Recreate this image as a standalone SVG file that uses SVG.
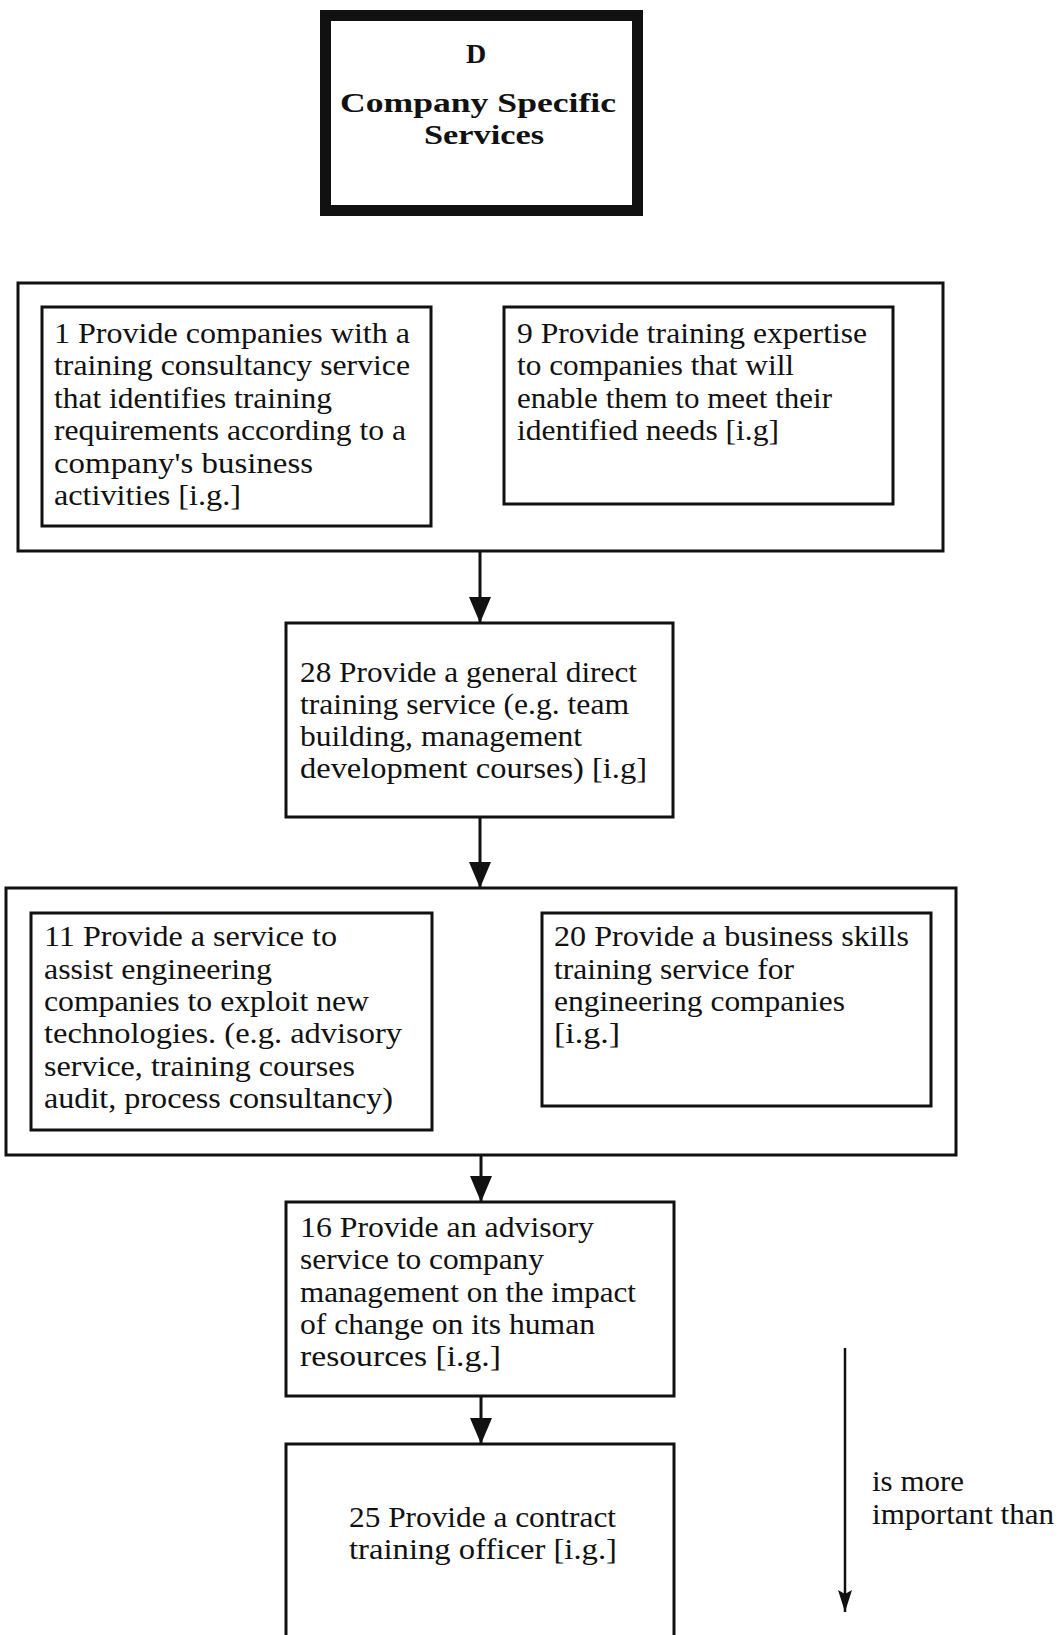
<svg xmlns="http://www.w3.org/2000/svg" width="1061" height="1635" viewBox="0 0 1061 1635">
  <style>
    .box { fill: #fff; stroke: #111; stroke-width: 3; }
    .group { fill: none; stroke: #111; stroke-width: 3; }
    .head { fill: none; stroke: #111; stroke-width: 11; }
    .t { font-family: "Liberation Serif", "Times New Roman", serif; font-size: 29px; fill: #111; }
    .h { font-family: "Liberation Serif", "Times New Roman", serif; font-size: 28px; font-weight: bold; fill: #111; }
    .link { stroke: #111; stroke-width: 3; fill: none; }
    .key { stroke: #111; stroke-width: 2.5; fill: none; }
  </style>
  <defs>
    <marker id="arrow" markerUnits="userSpaceOnUse" viewBox="0 0 26 22" markerWidth="26" markerHeight="22" refX="26" refY="11" orient="auto">
      <path d="M0,0 L26,11 L0,22 Z" fill="#111"/>
    </marker>
    <marker id="arrowSmall" markerUnits="userSpaceOnUse" viewBox="0 0 22 14" markerWidth="22" markerHeight="14" refX="22" refY="7" orient="auto">
      <path d="M0,0 L4,7 L0,14 L22,7 Z" fill="#111"/>
    </marker>
  </defs>

  <rect width="1061" height="1635" fill="#fff"/>

  <!-- heading -->
  <g id="heading">
    <rect class="head" x="325.5" y="15.5" width="312" height="195"/>
    <text class="h" x="476" y="63" text-anchor="middle" font-size="27">D</text>
    <text class="h" x="340" y="112" textLength="276" lengthAdjust="spacingAndGlyphs">Company  Specific</text>
    <text class="h" x="424" y="144" textLength="120" lengthAdjust="spacingAndGlyphs">Services</text>
  </g>

  <!-- first tier: services 1 and 9 -->
  <g id="tier1">
    <rect class="group" x="18" y="283" width="925" height="268"/>
  </g>
  <g id="node1">
    <rect class="box" x="42" y="307" width="389" height="219"/>
    <text class="t" x="54" y="343" textLength="356" lengthAdjust="spacingAndGlyphs">1 Provide companies with a</text>
    <text class="t" x="54" y="375" textLength="356" lengthAdjust="spacingAndGlyphs">training consultancy service</text>
    <text class="t" x="54" y="408" textLength="278" lengthAdjust="spacingAndGlyphs">that identifies training</text>
    <text class="t" x="54" y="440" textLength="352" lengthAdjust="spacingAndGlyphs">requirements according to a</text>
    <text class="t" x="54" y="473" textLength="259" lengthAdjust="spacingAndGlyphs">company's business</text>
    <text class="t" x="54" y="505" textLength="187" lengthAdjust="spacingAndGlyphs">activities [i.g.]</text>
  </g>
  <g id="node9">
    <rect class="box" x="504" y="307" width="389" height="197"/>
    <text class="t" x="517" y="343" textLength="350" lengthAdjust="spacingAndGlyphs">9 Provide training expertise</text>
    <text class="t" x="517" y="375" textLength="277" lengthAdjust="spacingAndGlyphs">to companies that will</text>
    <text class="t" x="517" y="408" textLength="315" lengthAdjust="spacingAndGlyphs">enable them to meet their</text>
    <text class="t" x="517" y="440" textLength="262" lengthAdjust="spacingAndGlyphs">identified needs [i.g]</text>
  </g>

  <!-- service 28 -->
  <g id="node28">
    <rect class="box" x="286" y="623" width="387" height="194"/>
    <text class="t" x="300" y="682" textLength="337" lengthAdjust="spacingAndGlyphs">28 Provide a general direct</text>
    <text class="t" x="300" y="714" textLength="329" lengthAdjust="spacingAndGlyphs">training service (e.g. team</text>
    <text class="t" x="300" y="746" textLength="282" lengthAdjust="spacingAndGlyphs">building, management</text>
    <text class="t" x="300" y="778" textLength="347" lengthAdjust="spacingAndGlyphs">development courses)  [i.g]</text>
  </g>

  <!-- second tier: services 11 and 20 -->
  <g id="tier2">
    <rect class="group" x="6" y="888" width="950" height="267"/>
  </g>
  <g id="node11">
    <rect class="box" x="31" y="913" width="401" height="217"/>
    <text class="t" x="44" y="946" textLength="293" lengthAdjust="spacingAndGlyphs">11 Provide a service to</text>
    <text class="t" x="44" y="979" textLength="228" lengthAdjust="spacingAndGlyphs">assist engineering</text>
    <text class="t" x="44" y="1011" textLength="325" lengthAdjust="spacingAndGlyphs">companies to exploit new</text>
    <text class="t" x="44" y="1043" textLength="358" lengthAdjust="spacingAndGlyphs">technologies. (e.g. advisory</text>
    <text class="t" x="44" y="1076" textLength="311" lengthAdjust="spacingAndGlyphs">service, training courses</text>
    <text class="t" x="44" y="1108" textLength="349" lengthAdjust="spacingAndGlyphs">audit, process consultancy)</text>
  </g>
  <g id="node20">
    <rect class="box" x="542" y="913" width="389" height="193"/>
    <text class="t" x="554" y="946" textLength="355" lengthAdjust="spacingAndGlyphs">20 Provide a business skills</text>
    <text class="t" x="554" y="979" textLength="240" lengthAdjust="spacingAndGlyphs">training service for</text>
    <text class="t" x="554" y="1011" textLength="291" lengthAdjust="spacingAndGlyphs">engineering companies</text>
    <text class="t" x="554" y="1043" textLength="66" lengthAdjust="spacingAndGlyphs">[i.g.]</text>
  </g>

  <!-- service 16 -->
  <g id="node16">
    <rect class="box" x="286" y="1202" width="388" height="194"/>
    <text class="t" x="300" y="1237" textLength="294" lengthAdjust="spacingAndGlyphs">16 Provide an advisory</text>
    <text class="t" x="300" y="1269" textLength="244" lengthAdjust="spacingAndGlyphs">service to company</text>
    <text class="t" x="300" y="1302" textLength="336" lengthAdjust="spacingAndGlyphs">management on the impact</text>
    <text class="t" x="300" y="1334" textLength="295" lengthAdjust="spacingAndGlyphs">of change on its human</text>
    <text class="t" x="300" y="1366" textLength="201" lengthAdjust="spacingAndGlyphs">resources  [i.g.]</text>
  </g>

  <!-- service 25 -->
  <g id="node25">
    <rect class="box" x="286" y="1444" width="388" height="210"/>
    <text class="t" x="349" y="1527" textLength="267" lengthAdjust="spacingAndGlyphs">25 Provide a contract</text>
    <text class="t" x="349" y="1559" textLength="268" lengthAdjust="spacingAndGlyphs">training officer  [i.g.]</text>
  </g>

  <!-- ordering connectors -->
  <g id="connectors">
    <line class="link" x1="480" y1="551" x2="480" y2="623" marker-end="url(#arrow)"/>
    <line class="link" x1="480" y1="817" x2="480" y2="888" marker-end="url(#arrow)"/>
    <line class="link" x1="481" y1="1155" x2="481" y2="1202" marker-end="url(#arrow)"/>
    <line class="link" x1="481" y1="1396" x2="481" y2="1444" marker-end="url(#arrow)"/>
  </g>

  <!-- legend -->
  <g id="legend">
    <line class="key" x1="845" y1="1348" x2="845" y2="1612" marker-end="url(#arrowSmall)"/>
    <text class="t" x="872" y="1491" textLength="92" lengthAdjust="spacingAndGlyphs">is more</text>
    <text class="t" x="872" y="1524" textLength="182" lengthAdjust="spacingAndGlyphs">important than</text>
  </g>
</svg>
